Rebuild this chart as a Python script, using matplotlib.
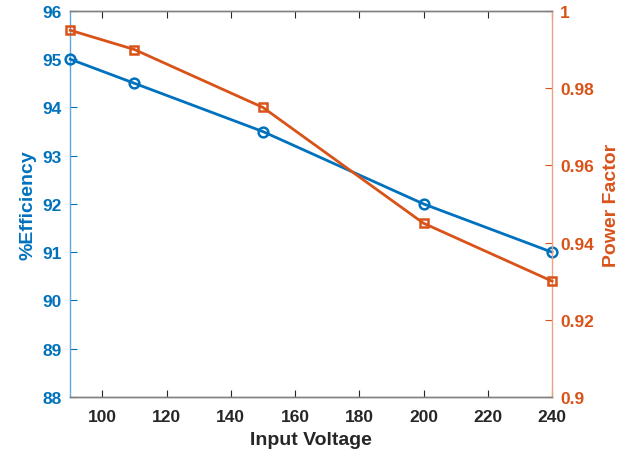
import matplotlib
matplotlib.use("Agg")
import matplotlib.pyplot as plt

plt.rcParams['font.family'] = ['Liberation Sans', 'DejaVu Sans']

voltage = [90, 110, 150, 200, 240]
efficiency = [95.0, 94.5, 93.5, 92.0, 91.0]
power_factor = [0.995, 0.990, 0.975, 0.945, 0.930]
x_ticks = [100, 120, 140, 160, 180, 200, 220, 240]
eff_ticks = [88, 89, 90, 91, 92, 93, 94, 95, 96]
pf_ticks = [0.9, 0.92, 0.94, 0.96, 0.98, 1.0]
pf_labels = ['0.9', '0.92', '0.94', '0.96', '0.98', '1']

blue = '#0072BD'
orange = '#D95319'
dark = '#262626'

fig = plt.figure(figsize=(6.33, 4.60), dpi=100)
ax = fig.add_axes([0.111, 0.135, 0.761, 0.839])
ax2 = ax.twinx()

ax.plot(voltage, efficiency, color=blue, lw=2, marker='o', ms=7, mfc='none', mew=1.8, zorder=3, clip_on=False)
ax2.plot(voltage, power_factor, color=orange, lw=2, marker='s', ms=6, mfc='none', mew=1.8, zorder=3, clip_on=False)

ax.set_xlim(90, 240)
ax.set_ylim(88, 96)
ax2.set_ylim(0.9, 1.0)
ax.set_xticks(x_ticks)
ax.set_yticks(eff_ticks)
ax2.set_yticks(pf_ticks)
ax2.set_yticklabels(pf_labels)

for a in (ax, ax2):
    for s in a.spines.values():
        s.set_linewidth(1.0)
    a.spines['top'].set_color('#808080')
    a.spines['bottom'].set_color('#808080')
ax.spines['left'].set_color('#5BA8E0')
ax2.spines['left'].set_visible(False)
ax.spines['right'].set_visible(False)
ax2.spines['right'].set_color('#F0A080')

ax.tick_params(axis='x', direction='in', top=True, colors=dark, labelsize=12.5, length=5, pad=9)
ax.tick_params(axis='y', direction='in', colors=blue, labelsize=12.5, length=5, pad=6)
ax2.tick_params(axis='y', direction='in', colors=orange, labelsize=12.5, length=5, pad=6)
for lab in ax.get_xticklabels() + ax.get_yticklabels() + ax2.get_yticklabels():
    lab.set_fontweight('bold')

ax.set_xlabel('Input Voltage', fontsize=14, fontweight='bold', color=dark, labelpad=5)
ax.set_ylabel('%Efficiency', fontsize=14, fontweight='bold', color=blue, labelpad=4)
ax2.set_ylabel('Power Factor', fontsize=14, fontweight='bold', color=orange, labelpad=6)

fig.savefig('out.png', dpi=100)
